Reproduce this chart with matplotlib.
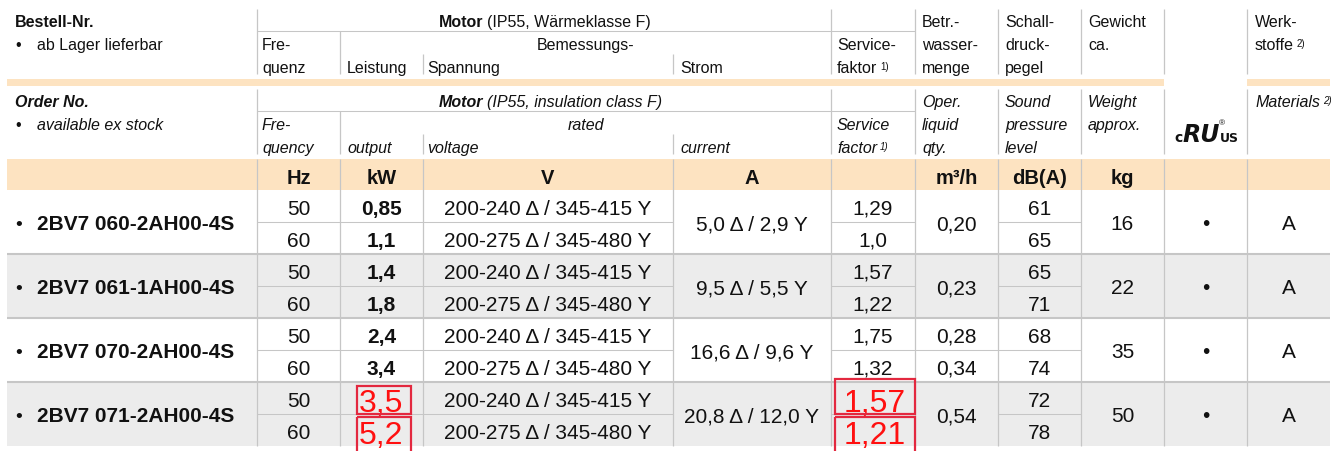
import matplotlib.pyplot as plt
from matplotlib.patches import Rectangle

plt.rcParams['font.family'] = ['Liberation Sans', 'DejaVu Sans']

# table content
order_numbers = ["2BV7 060-2AH00-4S", "2BV7 061-1AH00-4S",
                 "2BV7 070-2AH00-4S", "2BV7 071-2AH00-4S"]
frequency = ["50", "60", "50", "60", "50", "60", "50", "60"]
output_kw = ["0,85", "1,1", "1,4", "1,8", "2,4", "3,4", "3,5", "5,2"]
voltage = ["200-240 Δ / 345-415 Y", "200-275 Δ / 345-480 Y"] * 4
current = ["5,0 Δ / 2,9 Y", "9,5 Δ / 5,5 Y", "16,6 Δ / 9,6 Y", "20,8 Δ / 12,0 Y"]
service_factor = ["1,29", "1,0", "1,57", "1,22", "1,75", "1,32", "1,57", "1,21"]
liquid_qty = [["0,20"], ["0,23"], ["0,28", "0,34"], ["0,54"]]
sound_level = ["61", "65", "65", "71", "68", "74", "72", "78"]
weight = ["16", "22", "35", "50"]
ul_mark = ["•", "•", "•", "•"]
materials = ["A", "A", "A", "A"]
units = ["", "Hz", "kW", "V", "A", "", "m³/h", "dB(A)", "kg", "", ""]
# rows whose output / service factor are marked in red
marked_rows = [6, 7]

# layout (pixels)
W, H = 1342, 452
COL_X = [7, 257, 340, 423, 673, 831, 915, 998, 1081, 1164, 1247, 1330]
UNIT_TOP, UNIT_BOT = 160, 191
ROW_H = 32

ORANGE = "#fde3c1"
GREY_BG = "#ececec"
LINE = "#c6c6c6"
TXT = "#111111"
RED = "#ff1010"
RED_BOX = "#e3283f"

HDR = 11.5
DATA = 15
UNIT = 14.5

fig = plt.figure(figsize=(W / 100, H / 100), dpi=100)
ax = fig.add_axes([0, 0, 1, 1])
ax.set_xlim(0, W)
ax.set_ylim(H, 0)
ax.axis("off")


def hline(y, x0, x1, lw=0.75):
    ax.plot([x0, x1], [y, y], color=LINE, lw=lw, solid_capstyle="butt", zorder=2)


def vline(x, y0, y1, lw=0.9):
    ax.plot([x, x], [y0, y1], color=LINE, lw=lw, solid_capstyle="butt", zorder=2)


def ctr(i):
    return (COL_X[i] + COL_X[i + 1]) / 2


def sup(artist, s, style):
    ax.annotate(s, xy=(1, 1), xycoords=artist, xytext=(2, -1), textcoords="offset points",
                fontsize=7, va="top", ha="left", color=TXT, style=style)


def header_block(top, lang):
    it = "italic" if lang == "en" else "normal"
    b1, b2, b3 = top + 17, top + 40, top + 63
    motor_y = top + 22
    y_end = top + 65
    # vertical rules
    for x in [257, 831, 915, 998, 1081, 1164, 1247]:
        vline(x, top, y_end)
    vline(340, motor_y, y_end)
    vline(423, top + 45, y_end)
    vline(673, top + 45, y_end)
    hline(motor_y, 257, 915)

    kw = dict(color=TXT, fontsize=HDR, va="baseline", style=it)
    if lang == "de":
        ax.text(15, b1, "Bestell-Nr.", fontweight="bold", **kw)
        ax.text(15, b2, "•", **kw)
        ax.text(37, b2, "ab Lager lieferbar", **kw)
        ax.text(483, b1, "Motor", fontweight="bold", ha="right", **kw)
        ax.text(487, b1, "(IP55, Wärmeklasse F)", **kw)
        ax.text(262, b2, "Fre-", **kw)
        ax.text(262, b3, "quenz", **kw)
        ax.text(347, b3, "Leistung", **kw)
        ax.text(586, b2, "Bemessungs-", ha="center", **kw)
        ax.text(427, b3, "Spannung", **kw)
        ax.text(680, b3, "Strom", **kw)
        ax.text(837, b2, "Service-", **kw)
        t = ax.text(837, b3, "faktor", **kw)
        sup(t, "1)", it)
        for j, s in enumerate(["Betr.-", "wasser-", "menge"]):
            ax.text(922, [b1, b2, b3][j], s, **kw)
        for j, s in enumerate(["Schall-", "druck-", "pegel"]):
            ax.text(1005, [b1, b2, b3][j], s, **kw)
        ax.text(1088, b1, "Gewicht", **kw)
        ax.text(1088, b2, "ca.", **kw)
        ax.text(1255, b1, "Werk-", **kw)
        t = ax.text(1255, b2, "stoffe", **kw)
        sup(t, "2)", it)
    else:
        ax.text(15, b1, "Order No.", fontweight="bold", **kw)
        ax.text(15, b2, "•", color=TXT, fontsize=HDR, va="baseline")
        ax.text(37, b2, "available ex stock", **kw)
        ax.text(483, b1, "Motor", fontweight="bold", ha="right", **kw)
        ax.text(487, b1, "(IP55, insulation class F)", **kw)
        ax.text(262, b2, "Fre-", **kw)
        ax.text(262, b3, "quency", **kw)
        ax.text(347, b3, "output", **kw)
        ax.text(586, b2, "rated", ha="center", **kw)
        ax.text(427, b3, "voltage", **kw)
        ax.text(680, b3, "current", **kw)
        ax.text(837, b2, "Service", **kw)
        t = ax.text(837, b3, "factor", **kw)
        sup(t, "1)", it)
        for j, s in enumerate(["Oper.", "liquid", "qty."]):
            ax.text(922, [b1, b2, b3][j], s, **kw)
        for j, s in enumerate(["Sound", "pressure", "level"]):
            ax.text(1005, [b1, b2, b3][j], s, **kw)
        ax.text(1088, b1, "Weight", **kw)
        ax.text(1088, b2, "approx.", **kw)
        t = ax.text(1255, b1, "Materials", **kw)
        sup(t, "2)", it)
        # cULus mark
        logo = dict(color=TXT, family="DejaVu Sans", va="baseline")
        ax.text(1183, 142, "c", fontsize=10, fontweight="bold", ha="right", **logo)
        ax.text(1201, 142, "RU", fontsize=17, fontweight="heavy", style="italic",
                ha="center", **logo)
        ax.text(1220, 142, "US", fontsize=9, fontweight="bold", ha="left", **logo)
        ax.text(1219, 125, "®", fontsize=6, ha="left", color=TXT, va="baseline")


header_block(10, "de")
# orange separator between german and english header
ax.add_patch(Rectangle((7, 80), 1164 - 7, 7, color=ORANGE, lw=0, zorder=1))
ax.add_patch(Rectangle((1247, 80), 1330 - 1247, 7, color=ORANGE, lw=0, zorder=1))
header_block(90, "en")

# units band
ax.add_patch(Rectangle((7, UNIT_TOP), 1330 - 7, UNIT_BOT - UNIT_TOP, color=ORANGE, lw=0, zorder=1))
for i, u in enumerate(units):
    if u:
        ax.text(ctr(i), 184, u, ha="center", va="baseline", fontsize=UNIT,
                fontweight="bold", color=TXT)

# data rows
n_groups = len(order_numbers)
for g in range(n_groups):
    top = UNIT_BOT + g * 2 * ROW_H
    mid = top + ROW_H
    if g % 2 == 1:
        ax.add_patch(Rectangle((7, top), 1330 - 7, 2 * ROW_H, color=GREY_BG, lw=0, zorder=0))
    if g > 0:
        hline(top, 7, 1330, lw=1.5)
    # split line inside group
    split_cols = [1, 2, 3, 5, 7]
    if len(liquid_qty[g]) == 2:
        split_cols.append(6)
    for c in split_cols:
        hline(mid, COL_X[c], COL_X[c + 1], lw=0.75)

    cy = top + ROW_H + 7.5
    ax.text(15, cy, "•", fontsize=DATA - 1, va="baseline", color=TXT)
    ax.text(37, cy, order_numbers[g], fontsize=DATA, fontweight="bold", va="baseline", color=TXT)
    ax.text(ctr(4), cy, current[g], fontsize=DATA, ha="center", va="baseline", color=TXT)
    ax.text(ctr(8), cy, weight[g], fontsize=DATA, ha="center", va="baseline", color=TXT)
    ax.text(ctr(9), cy, ul_mark[g], fontsize=DATA, ha="center", va="baseline", color=TXT)
    ax.text(ctr(10), cy, materials[g], fontsize=DATA, ha="center", va="baseline", color=TXT)
    if len(liquid_qty[g]) == 1:
        ax.text(ctr(6), cy, liquid_qty[g][0], fontsize=DATA, ha="center", va="baseline", color=TXT)
    else:
        for k, v in enumerate(liquid_qty[g]):
            ax.text(ctr(6), top + k * ROW_H + 24, v, fontsize=DATA, ha="center",
                    va="baseline", color=TXT)

for r in range(len(frequency)):
    top = UNIT_BOT + r * ROW_H
    by = top + 24
    ax.text(ctr(1), by, frequency[r], fontsize=DATA, ha="center", va="baseline", color=TXT)
    ax.text(ctr(3), by, voltage[r], fontsize=DATA, ha="center", va="baseline", color=TXT)
    ax.text(ctr(7), by, sound_level[r], fontsize=DATA, ha="center", va="baseline", color=TXT)
    if r in marked_rows:
        first = r == marked_rows[0]
        ax.text(ctr(2) - 0.5, top + 29.5, output_kw[r], fontsize=23, ha="center",
                va="baseline", color=RED)
        ax.text(ctr(5) + 2, top + 29, service_factor[r], fontsize=23, ha="center",
                va="baseline", color=RED)
        # red frames round the marked cells (the lower ones run off the bottom edge)
        kb = (top + 4, 28) if first else (top + 3, 45)
        ax.add_patch(Rectangle((357, kb[0]), 54, kb[1], fill=False, ec=RED_BOX, lw=1.6, zorder=4))
        sb = (top - 3, 35) if first else (top + 3, 45)
        ax.add_patch(Rectangle((835, sb[0]), 80, sb[1], fill=False, ec=RED_BOX, lw=1.6, zorder=4))
    else:
        ax.text(ctr(2), by, output_kw[r], fontsize=DATA, fontweight="bold", ha="center",
                va="baseline", color=TXT)
        ax.text(ctr(5), by, service_factor[r], fontsize=DATA, ha="center", va="baseline",
                color=TXT)

# vertical rules through units band and body
for x in COL_X[1:-1]:
    vline(x, UNIT_TOP, UNIT_BOT + 8 * ROW_H)

plt.savefig("out.png", dpi=100)
